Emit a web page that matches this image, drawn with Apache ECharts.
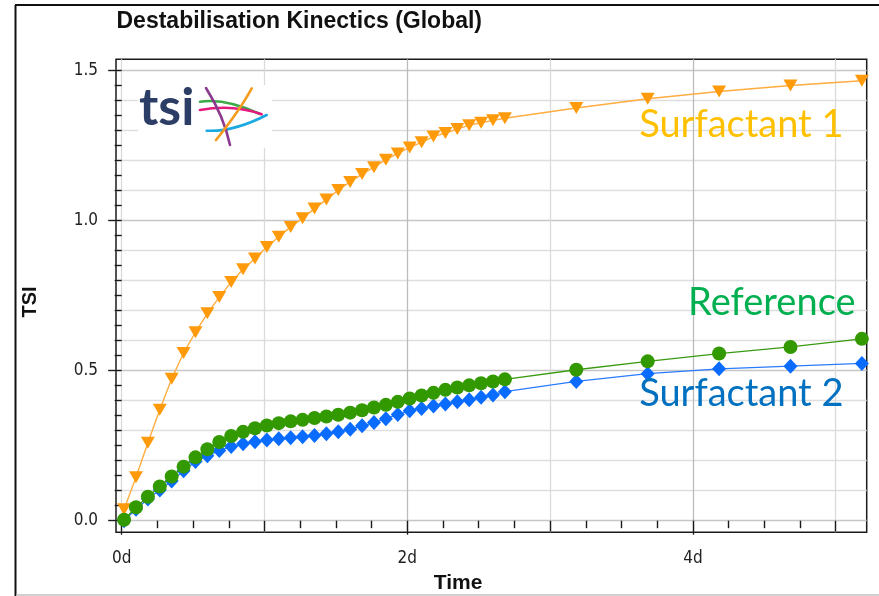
<!DOCTYPE html>
<html>
<head>
<meta charset="utf-8">
<script src="https://cdn.jsdelivr.net/npm/echarts@6/dist/echarts.min.js"></script>
<style>
  html, body { margin: 0; padding: 0; background: #ffffff; }
  #chart { width: 879px; height: 596px; }
</style>
</head>
<body>
<div id="chart"></div>
<script>
// Measurement times (hours after start)
const hours = [0.4, 2.4, 4.4, 6.4, 8.4, 10.4, 12.4, 14.4, 16.4, 18.4, 20.4, 22.4, 24.4,
  26.4, 28.4, 30.4, 32.4, 34.4, 36.4, 38.4, 40.4, 42.4, 44.4, 46.4, 48.4, 50.4, 52.4,
  54.4, 56.4, 58.4, 60.4, 62.4, 64.4, 76.4, 88.4, 100.4, 112.4, 124.4];

// TSI values per sample
const surfactant1 = [0.038, 0.145, 0.260, 0.370, 0.473, 0.559, 0.628, 0.691, 0.745, 0.795,
  0.838, 0.874, 0.912, 0.946, 0.979, 1.008, 1.040, 1.070, 1.102, 1.129, 1.155, 1.178, 1.203,
  1.224, 1.244, 1.261, 1.280, 1.292, 1.305, 1.318, 1.326, 1.334, 1.341,
  1.375, 1.406, 1.430, 1.450, 1.466];
const reference = [0.003, 0.045, 0.080, 0.114, 0.147, 0.180, 0.211, 0.238, 0.262, 0.282,
  0.296, 0.308, 0.317, 0.325, 0.331, 0.336, 0.342, 0.347, 0.353, 0.360, 0.368, 0.377, 0.386,
  0.396, 0.407, 0.417, 0.426, 0.436, 0.444, 0.451, 0.458, 0.464, 0.471,
  0.503, 0.531, 0.557, 0.579, 0.606];
const surfactant2 = [0.000, 0.038, 0.072, 0.102, 0.132, 0.166, 0.197, 0.216, 0.234, 0.247,
  0.256, 0.263, 0.269, 0.273, 0.276, 0.280, 0.284, 0.290, 0.296, 0.305, 0.316, 0.327, 0.340,
  0.354, 0.366, 0.374, 0.382, 0.389, 0.396, 0.403, 0.411, 0.419, 0.430,
  0.464, 0.490, 0.506, 0.515, 0.524];

// Tick positions (days / TSI)
const xMajorTicks = [0, 2, 4];
const xMidTicks = [1, 3, 5];
const xMinorTicks = [0.25, 0.5, 0.75, 1.25, 1.5, 1.75, 2.25, 2.5, 2.75, 3.25, 3.5, 3.75, 4.25, 4.5, 4.75];
const yMajorTicks = [0, 0.5, 1.0, 1.5];
const yGridTicks = [0.1, 0.2, 0.3, 0.4, 0.6, 0.7, 0.8, 0.9, 1.1, 1.2, 1.3, 1.4];
const yMinorTicks = [0.05, 0.15, 0.25, 0.35, 0.45, 0.55, 0.65, 0.75, 0.85, 0.95, 1.05, 1.15, 1.25, 1.35, 1.45];

const X_MIN = -0.0399, X_MAX = 5.217;
const Y_MIN = -0.0387, Y_MAX = 1.5375;

const toPoints = vals => hours.map((h, i) => [h / 24, vals[i]]);

const INK = '#1a1a1a';
const TICK_FONT = "'Liberation Sans Narrow', 'DejaVu Sans Condensed', 'Liberation Sans', sans-serif";
const rect = { left: 116, right: 12.3, top: 59.3, bottom: 63.7, outerBoundsMode: 'none' };

function xAxisDef(grid, ticks, len, opts) {
  return Object.assign({
    gridIndex: grid, type: 'value', min: X_MIN, max: X_MAX,
    axisLine: { show: false },
    axisTick: { show: true, customValues: ticks, length: len, lineStyle: { color: INK, width: 1.4 } },
    axisLabel: { show: false },
    splitLine: { show: false }
  }, opts || {});
}
function yAxisDef(grid, ticks, len, opts) {
  return Object.assign({
    gridIndex: grid, type: 'value', min: Y_MIN, max: Y_MAX,
    axisLine: { show: false },
    axisTick: { show: true, customValues: ticks, length: len, lineStyle: { color: INK, width: 1.4 } },
    axisLabel: { show: false },
    splitLine: { show: false }
  }, opts || {});
}

// Logo curve helper: quadratic curve
function arc(x1, y1, cx, cy, x2, y2, color) {
  return {
    type: 'bezierCurve', z: 110,
    shape: { x1: x1, y1: y1, cpx1: cx, cpy1: cy, x2: x2, y2: y2 },
    style: { stroke: color, lineWidth: 2.6, fill: null, lineCap: 'round' }
  };
}

const chart = echarts.init(document.getElementById('chart'), null, { renderer: 'canvas' });

chart.setOption({
  animation: false,
  backgroundColor: '#ffffff',
  grid: [
    Object.assign({ show: true, borderColor: INK, borderWidth: 1.5, backgroundColor: 'transparent' }, rect),
    Object.assign({}, rect),
    Object.assign({}, rect)
  ],
  xAxis: [
    xAxisDef(0, xMajorTicks, 14, {
      axisLabel: {
        show: true, customValues: xMajorTicks, formatter: v => v + 'd',
        margin: 18, color: '#222', fontSize: 17, fontFamily: TICK_FONT
      },
      splitLine: { show: true, lineStyle: { color: ['#dadada', '#bcbcbc', '#bcbcbc'], width: 1.3 } }
    }),
    xAxisDef(1, xMidTicks, 11, {
      splitLine: { show: true, lineStyle: { color: '#dadada', width: 1.3 } }
    }),
    xAxisDef(2, xMinorTicks, 7.5)
  ],
  yAxis: [
    yAxisDef(0, yMajorTicks, 13.5, {
      axisLabel: {
        show: true, customValues: yMajorTicks, formatter: v => v.toFixed(1),
        margin: 18, color: '#222', fontSize: 17, fontFamily: TICK_FONT
      },
      splitLine: { show: true, lineStyle: { color: '#c6c6c6', width: 1.3 } }
    }),
    yAxisDef(1, yGridTicks, 7, {
      splitLine: { show: true, lineStyle: { color: '#dedede', width: 1.3 } }
    }),
    yAxisDef(2, yMinorTicks, 7)
  ],
  series: [
    {
      name: 'Surfactant 1', type: 'line', xAxisIndex: 0, yAxisIndex: 0,
      data: toPoints(surfactant1), symbol: 'triangle', symbolRotate: 180, symbolSize: [14, 12],
      itemStyle: { color: '#ff9a0a' }, lineStyle: { color: '#ffac40', width: 1.4 }, z: 3
    },
    {
      name: 'Surfactant 2', type: 'line', xAxisIndex: 0, yAxisIndex: 0,
      data: toPoints(surfactant2), symbol: 'diamond', symbolSize: [14, 15],
      itemStyle: { color: '#0a6cff' }, lineStyle: { color: '#2a7cff', width: 1.3 }, z: 4
    },
    {
      name: 'Reference', type: 'line', xAxisIndex: 0, yAxisIndex: 0,
      data: toPoints(reference), symbol: 'circle', symbolSize: 14,
      itemStyle: { color: '#339900' }, lineStyle: { color: '#3a9a10', width: 1.3 }, z: 5
    }
  ],
  graphic: [
    // panel frame
    { type: 'line', shape: { x1: 15.5, y1: 5, x2: 15.5, y2: 596 }, style: { stroke: '#111', lineWidth: 2 } },
    { type: 'line', shape: { x1: 15, y1: 5, x2: 879, y2: 5 }, style: { stroke: '#111', lineWidth: 2 } },
    { type: 'line', shape: { x1: 16, y1: 595, x2: 879, y2: 595 }, style: { stroke: '#c0c0c0', lineWidth: 1.5 } },
    // title and axis names
    { type: 'text', x: 116.5, y: 22, style: { text: 'Destabilisation Kinectics (Global)', fill: '#111',
      font: "bold 23px 'Liberation Sans', Arial, sans-serif", textAlign: 'left', textVerticalAlign: 'middle' } },
    { type: 'text', x: 458, y: 583, style: { text: 'Time', fill: '#111',
      font: "bold 21px 'Liberation Sans', Arial, sans-serif", textAlign: 'center', textVerticalAlign: 'middle' } },
    { type: 'text', x: 30, y: 302, rotation: Math.PI / 2, style: { text: 'TSI', fill: '#111',
      font: "bold 20px 'Liberation Sans', Arial, sans-serif", textAlign: 'center', textVerticalAlign: 'middle' } },
    // logo
    { type: 'rect', z: 100, shape: { x: 138, y: 85, width: 134, height: 63 }, style: { fill: '#ffffff' } },
    { type: 'text', z: 110, x: 139, y: 134, style: { text: 'tsi', fill: '#2c3e66',
      font: "bold 52px Lato, 'Open Sans', sans-serif", textAlign: 'left', textVerticalAlign: 'bottom' } },
    arc(200, 101.7, 226, 98.1, 260, 114, '#3daa48'),
    arc(200, 110, 233.1, 103.8, 261.7, 114.3, '#e6197d'),
    arc(206.7, 130.7, 233.3, 132.1, 266.7, 115, '#1aa9e0'),
    arc(206, 88, 224, 116.5, 230, 145, '#8b3a8f'),
    arc(251.7, 88.3, 240.1, 109.8, 216, 140, '#f39c1f'),
    // series names
    { type: 'text', z: 120, x: 843.5, y: 125, style: { text: 'Surfactant 1', fill: '#ffc000',
      font: "38px Lato, 'Open Sans', sans-serif", textAlign: 'right', textVerticalAlign: 'middle' } },
    { type: 'text', z: 120, x: 855.5, y: 303, style: { text: 'Reference', fill: '#00b050',
      font: "38px Lato, 'Open Sans', sans-serif", textAlign: 'right', textVerticalAlign: 'middle' } },
    { type: 'text', z: 120, x: 843.5, y: 394, style: { text: 'Surfactant 2', fill: '#0070c0',
      font: "38px Lato, 'Open Sans', sans-serif", textAlign: 'right', textVerticalAlign: 'middle' } }
  ]
});
</script>
</body>
</html>
